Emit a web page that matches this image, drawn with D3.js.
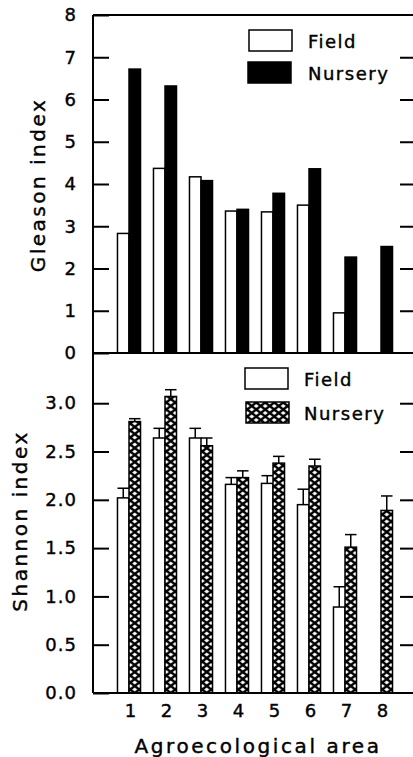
<!DOCTYPE html>
<html>
<head>
<meta charset="utf-8">
<script src="https://cdn.jsdelivr.net/npm/d3@7"></script>
<style>
  html, body { margin: 0; padding: 0; background: #fff; }
  svg text { font-family: 'DejaVu Sans', sans-serif; fill: #000; stroke: #000; stroke-width: 0.4px; }
</style>
</head>
<body>
<div id="chart"></div>
<script>
const areas = ['1', '2', '3', '4', '5', '6', '7', '8'];
const series = ['Field', 'Nursery'];

// Gleason index (top panel); area 8 has no field bar
const gleasonField = [2.83, 4.37, 4.17, 3.36, 3.34, 3.5, 0.95, null];
const gleasonNursery = [6.72, 6.32, 4.08, 3.4, 3.78, 4.36, 2.27, 2.52];

// Shannon index (bottom panel) with the upper error bar end
const shannonField = [2.02, 2.64, 2.64, 2.16, 2.17, 1.95, 0.89, null];
const shannonFieldErr = [2.12, 2.74, 2.74, 2.23, 2.25, 2.11, 1.1, null];
const shannonNursery = [2.81, 3.07, 2.56, 2.23, 2.38, 2.35, 1.51, 1.89];
const shannonNurseryErr = [2.84, 3.14, 2.64, 2.3, 2.45, 2.42, 1.64, 2.04];

const gleasonTicks = [0, 1, 2, 3, 4, 5, 6, 7, 8];
const shannonTicks = [0, 0.5, 1, 1.5, 2, 2.5, 3];

const width = 413,
  height = 757,
  left = 93,
  right = 418,
  topY = 15,
  midY = 353,
  bottomY = 693;

const svg = d3
  .select('#chart')
  .append('svg')
  .attr('width', width)
  .attr('height', height);

const x = d3
  .scaleBand()
  .domain(areas)
  .range([111, 399])
  .paddingInner(0.36)
  .paddingOuter(0.18);

const xSub = d3.scaleBand().domain(series).range([0, x.bandwidth()]);

const yTop = d3.scaleLinear().domain([0, 8]).range([midY, topY]);
const yBot = d3.scaleLinear().domain([0, 3.52]).range([bottomY, midY]);

// crosshatch fill for nursery bars in the lower panel (white diamonds on black)
const tw = 9,
  th = 7,
  dx = 2.5,
  dy = 1.95;
const pat = svg
  .append('defs')
  .append('pattern')
  .attr('id', 'hatch')
  .attr('patternUnits', 'userSpaceOnUse')
  .attr('x', x(areas[0]) + xSub('Nursery') + xSub.bandwidth() / 2 - tw / 2)
  .attr('y', 0)
  .attr('width', tw)
  .attr('height', th);
pat.append('rect').attr('width', tw).attr('height', th).attr('fill', '#000');
const diamond = (cx, cy) =>
  `M${cx},${cy - dy}L${cx + dx},${cy}L${cx},${cy + dy}L${cx - dx},${cy}Z`;
pat
  .append('path')
  .attr(
    'd',
    [
      diamond(tw / 2, th / 2),
      diamond(0, 0),
      diamond(tw, 0),
      diamond(0, th),
      diamond(tw, th),
    ].join('')
  )
  .attr('fill', '#fff');

function drawBars(values, y, key, fill) {
  const rows = areas
    .map((a, i) => ({ area: a, v: values[i] }))
    .filter((d) => d.v != null);
  svg
    .append('g')
    .selectAll('rect')
    .data(rows)
    .enter()
    .append('rect')
    .attr('x', (d) => x(d.area) + xSub(key))
    .attr('y', (d) => y(d.v))
    .attr('width', xSub.bandwidth())
    .attr('height', (d) => y(0) - y(d.v))
    .attr('fill', fill)
    .attr('stroke', '#000')
    .attr('stroke-width', 1.5);
}

function drawErrors(values, upper, y, key) {
  const rows = areas
    .map((a, i) => ({ area: a, v: values[i], e: upper[i] }))
    .filter((d) => d.v != null);
  const g = svg.append('g').attr('stroke', '#000').attr('stroke-width', 1.5);
  const cx = (d) => x(d.area) + xSub(key) + xSub.bandwidth() / 2;
  const half = xSub.bandwidth() / 2;
  g.selectAll('.ev')
    .data(rows)
    .enter()
    .append('line')
    .attr('x1', cx)
    .attr('x2', cx)
    .attr('y1', (d) => y(d.v))
    .attr('y2', (d) => y(d.e));
  g.selectAll('.ec')
    .data(rows)
    .enter()
    .append('line')
    .attr('x1', (d) => cx(d) - half)
    .attr('x2', (d) => cx(d) + half)
    .attr('y1', (d) => y(d.e))
    .attr('y2', (d) => y(d.e));
}

drawBars(gleasonField, yTop, 'Field', '#fff');
drawBars(gleasonNursery, yTop, 'Nursery', '#000');

drawErrors(shannonField, shannonFieldErr, yBot, 'Field');
drawErrors(shannonNursery, shannonNurseryErr, yBot, 'Nursery');
drawBars(shannonField, yBot, 'Field', '#fff');
drawBars(shannonNursery, yBot, 'Nursery', 'url(#hatch)');

function styleAxis(g, size) {
  g.select('.domain').remove();
  g.selectAll('line').attr('stroke', '#000').attr('stroke-width', 2);
  g.selectAll('text')
    .style('font-size', size + 'px')
    .style('letter-spacing', '1px')
    .attr('fill', '#000');
}

// left axes, ticks pointing inward
svg
  .append('g')
  .attr('transform', `translate(${left},0)`)
  .call(d3.axisLeft(yTop).tickValues(gleasonTicks).tickSize(-16).tickPadding(16))
  .call((g) => styleAxis(g, 18));
svg
  .append('g')
  .attr('transform', `translate(${left},0)`)
  .call(
    d3
      .axisLeft(yBot)
      .tickValues(shannonTicks)
      .tickFormat(d3.format('.1f'))
      .tickSize(-16)
      .tickPadding(16)
  )
  .call((g) => styleAxis(g, 18));

// right axes, unlabeled
svg
  .append('g')
  .attr('transform', `translate(${right},0)`)
  .call(d3.axisRight(yTop).tickValues(gleasonTicks.slice(1, -1)).tickSize(-18).tickFormat(''))
  .call((g) => styleAxis(g, 18));
svg
  .append('g')
  .attr('transform', `translate(${right},0)`)
  .call(d3.axisRight(yBot).tickValues(shannonTicks.slice(1)).tickSize(-18).tickFormat(''))
  .call((g) => styleAxis(g, 18));

// x axis labels
svg
  .append('g')
  .attr('transform', `translate(2,${bottomY})`)
  .call(d3.axisBottom(x).tickSize(0).tickPadding(11))
  .call((g) => styleAxis(g, 18));

// frame lines
const frame = svg.append('g').attr('stroke', '#000').attr('stroke-width', 2);
frame.append('line').attr('x1', left).attr('x2', left).attr('y1', topY).attr('y2', bottomY);
frame.append('line').attr('x1', left).attr('x2', right).attr('y1', topY).attr('y2', topY);
frame.append('line').attr('x1', left).attr('x2', right).attr('y1', midY).attr('y2', midY);
frame.append('line').attr('x1', left).attr('x2', right).attr('y1', bottomY).attr('y2', bottomY);
frame.append('line').attr('x1', right).attr('x2', right).attr('y1', topY).attr('y2', bottomY);

// axis titles
svg
  .append('text')
  .attr('transform', 'translate(45,185) rotate(-90)')
  .attr('text-anchor', 'middle')
  .style('font-size', '20px')
  .style('letter-spacing', '2.5px')
  .text('Gleason index');
svg
  .append('text')
  .attr('transform', 'translate(27,521) rotate(-90)')
  .attr('text-anchor', 'middle')
  .style('font-size', '20px')
  .style('letter-spacing', '2.5px')
  .text('Shannon index');
svg
  .append('text')
  .attr('x', 258)
  .attr('y', 753)
  .attr('text-anchor', 'middle')
  .style('font-size', '20px')
  .style('letter-spacing', '2.6px')
  .text('Agroecological area');

// legends
function legend(items) {
  items.forEach((it) => {
    svg
      .append('rect')
      .attr('x', it.x)
      .attr('y', it.y)
      .attr('width', 43)
      .attr('height', 21)
      .attr('fill', it.fill)
      .attr('stroke', '#000')
      .attr('stroke-width', 1.5);
    svg
      .append('text')
      .attr('x', it.tx)
      .attr('y', it.y + 18)
      .style('font-size', '18px')
      .style('letter-spacing', '1.5px')
      .text(it.label);
  });
}
legend([
  { label: series[0], x: 249, y: 30, tx: 308, fill: '#fff' },
  { label: series[1], x: 248, y: 62, tx: 308, fill: '#000' },
]);
legend([
  { label: series[0], x: 245, y: 368, tx: 304, fill: '#fff' },
  { label: series[1], x: 246, y: 402, tx: 304, fill: 'url(#hatch)' },
]);
</script>
</body>
</html>
